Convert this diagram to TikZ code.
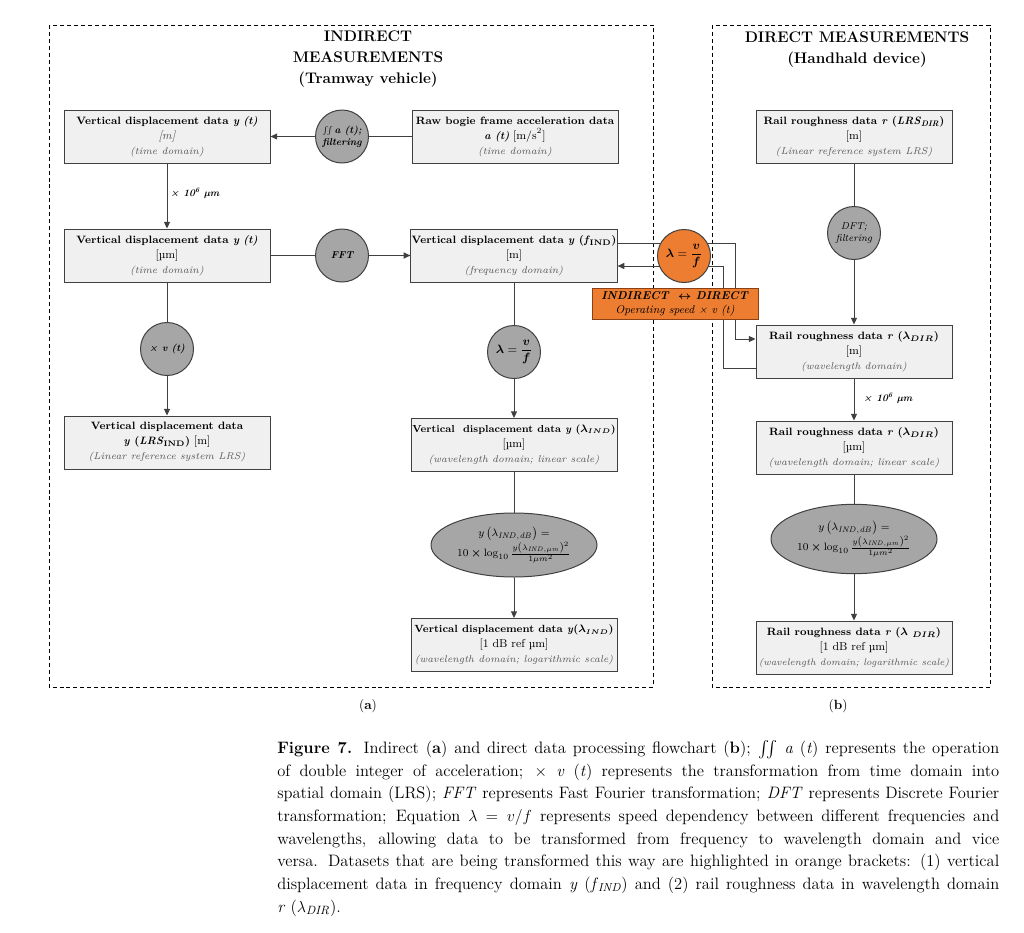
\documentclass[tikz,border=0pt]{standalone}
\usepackage{amsmath,amssymb,bm}
\usetikzlibrary{arrows.meta,shapes.geometric}
\definecolor{boxfill}{RGB}{240,240,240}
\definecolor{lineC}{RGB}{64,64,64}
\definecolor{circfill}{RGB}{166,166,166}
\definecolor{orng}{RGB}{237,125,49}
\definecolor{orngline}{RGB}{140,65,20}
\definecolor{subtxt}{RGB}{85,85,85}
\newcommand{\domtxt}[1]{{\fontsize{7.4}{9}\selectfont\itshape\color{subtxt}#1}}
\newcommand{\unittxt}[1]{{\fontsize{8.6}{10}\selectfont#1}}
\tikzset{
 databox/.style={draw=lineC, line width=0.75pt, fill=boxfill, align=center, inner sep=0.5pt,
   font=\fontsize{8}{11.25}\selectfont, minimum height=39.75pt},
 lbox/.style={databox, minimum width=154.5pt},
 rbox/.style={databox, minimum width=147pt},
 opcirc/.style={circle, draw=lineC, line width=0.75pt, fill=circfill, minimum size=39.75pt,
   inner sep=0pt, align=center, font=\fontsize{7.5}{9}\selectfont\bfseries\itshape},
 orcirc/.style={opcirc, fill=orng},
 opell/.style={ellipse, draw=lineC, line width=0.75pt, fill=circfill, minimum width=124.5pt,
   minimum height=48pt, inner sep=0pt, align=center, font=\fontsize{8.5}{12}\selectfont},
 conn/.style={draw=lineC, line width=0.75pt},
 arr/.style={conn, -{Triangle[length=5pt,width=4.5pt]}},
 dframe/.style={draw=black, line width=0.75pt, dash pattern=on 3pt off 2.2pt},
 ttl/.style={align=center, font=\fontsize{11.5}{15.75}\selectfont\bfseries},
 steplbl/.style={anchor=west, font=\fontsize{7.5}{9}\selectfont\bfseries\itshape, inner sep=0pt},
}
\begin{document}
\begin{tikzpicture}[x=0.75pt,y=-0.75pt]
\useasboundingbox (0,0) rectangle (1024,932);
% frames
\draw[dframe] (49,25) rectangle (653,687);
\draw[dframe] (712,25) rectangle (990,687);
% titles
\node[ttl] (t1) at (368,59) {INDIRECT\\MEASUREMENTS\\(Tramway vehicle)};
\node[ttl] (t2) at (857,50) {DIRECT MEASUREMENTS\\(Handhald device)};
% left column
\node[lbox] (A1) at (167,136.5) {\textbf{Vertical displacement data \textit{y (t)}}\\\unittxt{\itshape\color{subtxt}[m]}\\\domtxt{(time domain)}};
\node[opcirc] (C1) at (342,136.5) {{\fontsize{6}{6}\selectfont$\iint$}\,a (t);\\filtering};
\node[lbox] (A2) at (515,136.5) {\textbf{Raw bogie frame acceleration data}\\\textbf{\textit{a (t)}} \unittxt{[m/s\textsuperscript{2}]}\\\domtxt{(time domain)}};
\node[lbox] (A3) at (167,255.5) {\textbf{Vertical displacement data \textit{y (t)}}\\\unittxt{[µm]}\\\domtxt{(time domain)}};
\node[opcirc] (FFT) at (342,255.5) {FFT};
\node[lbox] (A4) at (514,255.5) {\textbf{Vertical displacement data \textit{y} (\textit{f}\textsubscript{IND})}\\\unittxt{[m]}\\\domtxt{(frequency domain)}};
\node[opcirc] (XV) at (167,349) {× v (t)};
\node[lbox] (A5) at (167,442.5) {\textbf{Vertical displacement data}\\\textbf{\textit{y} (\textit{LRS}\textsubscript{IND})} \unittxt{[m]}\\\domtxt{(Linear reference system LRS)}};
\node[opcirc, font=\fontsize{9}{10}\selectfont] (GL) at (514,352) {$\bm{\lambda}=\dfrac{\bm{v}}{\bm{f}}$};
\node[lbox] (A6) at (514,445) {{\fontsize{7.6}{11.25}\selectfont\textbf{Vertical\ \ displacement data \textit{y} ($\bm{\lambda}_{\bm{IND}}$)}}\\\unittxt{[µm]}\\\domtxt{(wavelength domain; linear scale)}};
\node[opell] (EL) at (514,545) {$y\left(\lambda_{\mathit{IND,dB}}\right) =$\\$10\bm{\times}\log_{10}\frac{y\left(\lambda_{\mathit{IND,\mu m}}\right)^{2}}{1\mu m^{2}}$};
\node[lbox] (A7) at (514,645) {{\fontsize{7.8}{11.25}\selectfont\textbf{Vertical displacement data \textit{y}($\bm{\lambda}_{\bm{IND}}$)}}\\\unittxt{[1 dB ref µm]}\\\domtxt{(wavelength domain; logarithmic scale)}};
% right column
\node[rbox] (B1) at (854,136.5) {\textbf{Rail roughness data \textit{r} (\textit{LRS}\textsubscript{\textit{DIR}})}\\\unittxt{[m]}\\\domtxt{(Linear reference system LRS)}};
\node[opcirc, font=\fontsize{7.5}{9}\selectfont\itshape] (DFT) at (854,233) {DFT;\\filtering};
\node[rbox] (B3) at (854,351.5) {\textbf{Rail roughness data \textit{r} ($\bm{\lambda}_{\bm{DIR}}$)}\\\unittxt{[m]}\\\domtxt{(wavelength domain)}};
\node[rbox] (B4) at (854,447.5) {\textbf{Rail roughness data \textit{r} ($\bm{\lambda}_{\bm{DIR}}$)}\\\unittxt{[µm]}\\\domtxt{(wavelength domain; linear scale)}};
\node[opell, minimum height=52pt] (ER) at (854,539) {$y\left(\lambda_{\mathit{IND,dB}}\right) =$\\$10\bm{\times}\log_{10}\frac{y\left(\lambda_{\mathit{IND,\mu m}}\right)^{2}}{1\mu m^{2}}$};
\node[rbox] (B5) at (854,647.5) {\textbf{Rail roughness data \textit{r} ($\bm{\lambda}\ _{\bm{DIR}}$)}\\\unittxt{[1 dB ref µm]}\\{\fontsize{7.1}{9}\selectfont\itshape\color{subtxt}(wavelength domain; logarithmic scale)}};
% connectors
\draw[conn] (A2) -- (C1);
\draw[arr] (C1) -- (A1);
\draw[arr] (A1) -- (A3);
\node[steplbl] (L1) at (170,193) {× 10\textsuperscript{6} µm};
\draw[conn] (A3) -- (FFT);
\draw[arr] (FFT) -- (A4);
\draw[conn] (A3) -- (XV);
\draw[arr] (XV) -- (A5);
\draw[conn] (A4) -- (GL);
\draw[arr] (GL) -- (A6);
\draw[conn] (A6) -- (EL);
\draw[arr] (EL) -- (A7);
\draw[conn] (B1) -- (DFT);
\draw[arr] (DFT) -- (B3);
\draw[arr] (B3) -- (B4);
\node[steplbl] (L2) at (863,398) {× 10\textsuperscript{6} µm};
\draw[conn] (B4) -- (ER);
\draw[arr] (ER) -- (B5);
% cross-links
\coordinate (k1) at (735,243);
\coordinate (k2) at (735,339);
\coordinate (k3) at (723,266);
\coordinate (k4) at (723,368);
\draw[arr] (A4.east |- k1) -- (k1) -- (k2) -- (B3.west |- k2);
\draw[arr] (B3.west |- k4) -- (k4) -- (k3) -- (A4.east |- k3);
\node[orcirc, font=\fontsize{9}{10}\selectfont] (O) at (684,256) {$\bm{\lambda}=\dfrac{\bm{v}}{\bm{f}}$};
\node[draw=orngline, line width=0.75pt, fill=orng, minimum width=124.5pt, minimum height=23.25pt, inner sep=0pt, align=center, font=\fontsize{8.5}{10.5}\selectfont] (OB) at (675,303.5) {\textbf{\textit{INDIRECT\ \ $\bm{\leftrightarrow}$ DIRECT}}\\\textit{Operating speed × v (t)}};
% sub labels
\node[font=\fontsize{10}{12}\selectfont] (la) at (368,706) {(\textbf{a})};
\node[font=\fontsize{10}{12}\selectfont] (lb) at (838,706) {(\textbf{b})};
% caption
\node[anchor=north west, text width=541.5pt, align=justify, inner sep=0pt, font=\fontsize{12.4}{17}\selectfont] (cap) at (277,740) {\tolerance=9999\emergencystretch=3em
\textbf{Figure 7.} Indirect (\textbf{a}) and direct data processing flowchart (\textbf{b}); $\int\!\!\int$ \textit{a} (\textit{t}) represents the operation\linebreak
of double integer of acceleration; $\times$ \textit{v} (\textit{t}) represents the transformation from time domain into\linebreak
spatial domain (LRS); \textit{FFT} represents Fast Fourier transformation; \textit{DFT} represents Discrete Fourier\linebreak
transformation; Equation $\lambda = v/f$ represents speed dependency between different frequencies and\linebreak
wavelengths, allowing data to be transformed from frequency to wavelength domain and vice\linebreak
versa. Datasets that are being transformed this way are highlighted in orange brackets: (1) vertical\linebreak
displacement data in frequency domain \textit{y} (\textit{f}\textsubscript{\textit{IND}}) and (2) rail roughness data in wavelength domain\linebreak
\textit{r} ($\lambda_{\mathit{DIR}}$).};
\end{tikzpicture}
\end{document}
